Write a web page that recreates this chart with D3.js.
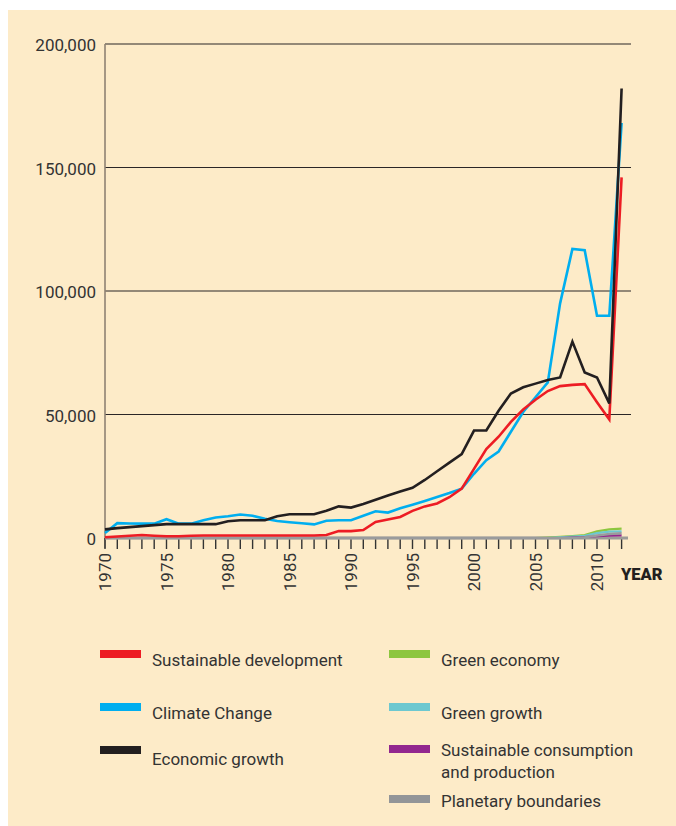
<!DOCTYPE html>
<html><head><meta charset="utf-8">
<script src="https://cdn.jsdelivr.net/npm/d3@7"></script>
<style>body{margin:0;background:#fff}svg{display:block}text{font-family:Roboto,"Noto Sans",sans-serif}</style>
</head><body><svg id="c" width="676" height="826"></svg>
<script>
const years = [1970,1971,1972,1973,1974,1975,1976,1977,1978,1979,1980,1981,1982,1983,1984,1985,1986,1987,1988,1989,1990,1991,1992,1993,1994,1995,1996,1997,1998,1999,2000,2001,2002,2003,2004,2005,2006,2007,2008,2009,2010,2011,2012];
const sustainableDevelopment = [300,600,900,1200,900,700,700,900,1000,1000,1000,1000,1000,1000,1000,1000,1000,1000,1200,2800,2800,3200,6500,7500,8500,11000,12800,14000,16500,20000,28000,36000,41000,47000,52000,56000,59500,61500,62000,62300,55000,48000,146000];
const climateChange = [2000,6000,5900,5800,5800,7600,5800,5800,7200,8300,8800,9500,9000,7800,6900,6400,6000,5500,7000,7200,7200,9000,10800,10300,12000,13500,15000,16600,18200,20000,26000,31500,35000,43000,51000,57000,63000,95000,117000,116500,90000,90000,168000];
const economicGrowth = [3500,4000,4400,4800,5200,5600,5600,5600,5600,5600,6800,7200,7200,7200,8800,9600,9600,9600,11000,12800,12300,13800,15500,17200,18800,20300,23500,27000,30500,34000,43500,43500,51500,58500,61000,62500,64000,65000,79500,67000,65000,54500,182000];
const greenEconomy = [0,0,0,0,0,0,0,0,0,0,0,0,0,0,0,0,0,0,0,0,0,0,0,0,0,0,0,0,0,0,0,0,0,0,0,0,200,500,800,1200,2700,3500,3800];
const greenGrowth = [0,0,0,0,0,0,0,0,0,0,0,0,0,0,0,0,0,0,0,0,0,0,0,0,0,0,0,0,0,0,0,0,0,0,0,0,0,300,600,900,2000,2600,2700];
const sustainableConsumption = [0,0,0,0,0,0,0,0,0,0,0,0,0,0,0,0,0,0,0,0,0,0,0,0,0,0,0,0,0,0,0,0,0,0,0,0,0,0,200,400,700,1000,1100];
const planetaryBoundaries = [0,0,0,0,0,0,0,0,0,0,0,0,0,0,0,0,0,0,0,0,0,0,0,0,0,0,0,0,0,0,0,0,0,0,0,0,0,0,0,300,1000,1600,1900];
const yTicks = [0,50000,100000,150000,200000];
const xLabelYears = [1970,1975,1980,1985,1990,1995,2000,2005,2010];

const seriesDefs = [
  {name:"Green economy", values:greenEconomy, color:"#8dc63f", w:2.2},
  {name:"Green growth", values:greenGrowth, color:"#6dc8d0", w:2.2},
  {name:"Sustainable consumption and production", values:sustainableConsumption, color:"#92278f", w:2.2},
  {name:"Planetary boundaries", values:planetaryBoundaries, color:"#9a9b9c", w:2.6},
  {name:"Climate Change", values:climateChange, color:"#00aeef", w:2.6},
  {name:"Sustainable development", values:sustainableDevelopment, color:"#ed1c24", w:2.6},
  {name:"Economic growth", values:economicGrowth, color:"#231f20", w:2.6}
];

const svg = d3.select("#c");
svg.append("rect").attr("x",8).attr("y",10).attr("width",668).attr("height",816).attr("fill","#fdebc8");

const x = d3.scaleLinear().domain([1970,2012]).range([105,621.6]);
const y = d3.scaleLinear().domain([0,200000]).range([538,44]);

svg.append("g").selectAll("line").data(yTicks.filter(d=>d>0)).join("line")
  .attr("x1",105).attr("x2",631).attr("y1",d=>y(d)).attr("y2",d=>y(d))
  .attr("stroke","#2a2626").attr("stroke-width",1.2);
svg.append("g").selectAll("text").data(yTicks).join("text")
  .attr("x",96).attr("y",d=>y(d)+2).attr("text-anchor","end").attr("dy","0.32em")
  .attr("font-size",17).attr("fill","#333")
  .text(d=>d3.format(",")(d));
svg.append("line").attr("x1",105).attr("x2",105).attr("y1",y(200000)).attr("y2",548)
  .attr("stroke","#8f8273").attr("stroke-width",1.6);

svg.append("g").selectAll("line").data(years).join("line")
  .attr("x1",d=>x(d)).attr("x2",d=>x(d)).attr("y1",538).attr("y2",549)
  .attr("stroke","#333").attr("stroke-width",1.4);
svg.append("line").attr("x1",105).attr("x2",628).attr("y1",538).attr("y2",538)
  .attr("stroke","#9c9c98").attr("stroke-width",3);

const line = d3.line().x((d,i)=>x(years[i])).y(d=>y(d)).curve(d3.curveLinear);
svg.append("g").selectAll("path").data(seriesDefs).join("path")
  .attr("d",d=>line(d.values)).attr("fill","none").attr("stroke",d=>d.color)
  .attr("stroke-width",d=>d.w).attr("stroke-linejoin","miter");

svg.append("g").selectAll("text").data(xLabelYears).join("text")
  .attr("transform",d=>`translate(${x(d)},553) rotate(-90)`)
  .attr("text-anchor","end").attr("dy","0.36em")
  .attr("font-size",17).attr("fill","#333").text(d=>d);
svg.append("text").attr("x",621).attr("y",580).attr("font-size",16.5).attr("font-weight",900)
  .attr("fill","#231f20").text("YEAR");

const legend = [
  {name:["Sustainable development"], color:"#ed1c24", sx:100, sy:650, ty:666},
  {name:["Climate Change"], color:"#00aeef", sx:100, sy:703, ty:719},
  {name:["Economic growth"], color:"#231f20", sx:100, sy:746, ty:765},
  {name:["Green economy"], color:"#8dc63f", sx:389, sy:650, ty:666},
  {name:["Green growth"], color:"#6dc8d0", sx:389, sy:703, ty:719},
  {name:["Sustainable consumption","and production"], color:"#92278f", sx:389, sy:745, ty:756},
  {name:["Planetary boundaries"], color:"#939598", sx:389, sy:795, ty:807}
];
const lg = svg.append("g").selectAll("g").data(legend).join("g");
lg.append("rect").attr("x",d=>d.sx).attr("y",d=>d.sy).attr("width",41).attr("height",8).attr("fill",d=>d.color);
lg.append("text").attr("x",d=>d.sx+52).attr("y",d=>d.ty).attr("font-size",17).attr("fill","#333")
  .selectAll("tspan").data(d=>d.name).join("tspan").attr("x",function(){return this.parentNode.getAttribute("x");})
  .attr("dy",(d,i)=>i?22:0).text(d=>d);
</script></body></html>
